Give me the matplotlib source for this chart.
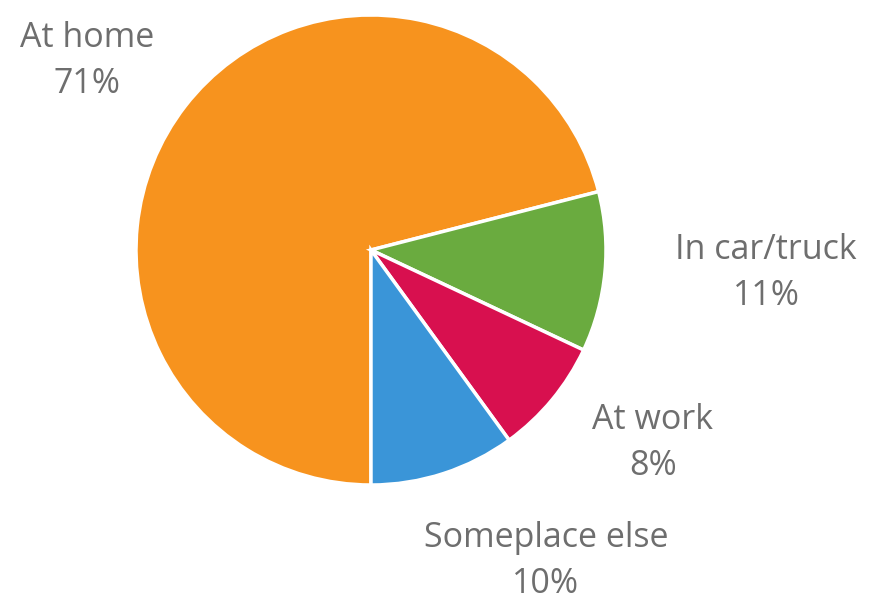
import matplotlib
matplotlib.use("Agg")
import matplotlib.pyplot as plt

# Where people are when listening
categories = ["At home", "In car/truck", "At work", "Someplace else"]
shares = [71, 11, 8, 10]
colors = ["#F7931E", "#6AAB3F", "#D8104F", "#3A95D8"]

# Label anchor points (figure pixels, y measured from bottom)
label_xy = [(87, 542), (766, 330), (653, 160), (546, 42)]

W, H = 876, 603
fig = plt.figure(figsize=(W / 100, H / 100), dpi=100)
ax = fig.add_axes([0, 0, 1, 1])

ax.pie(
    shares,
    colors=colors,
    startangle=-90,
    counterclock=False,
    center=(371, H - 250),
    radius=235,
    frame=True,
    wedgeprops=dict(edgecolor="white", linewidth=2.5),
)
ax.set_xlim(0, W)
ax.set_ylim(0, H)
ax.set_aspect("equal")
ax.axis("off")

for name, val, (x, y) in zip(categories, shares, label_xy):
    ax.text(x, y, f"{name}\n{val}%", ha="center", va="center",
            fontsize=24.5, family="Open Sans", color="#6e6e6e", linespacing=1.44)

fig.savefig("out.png", dpi=100, facecolor="white")
